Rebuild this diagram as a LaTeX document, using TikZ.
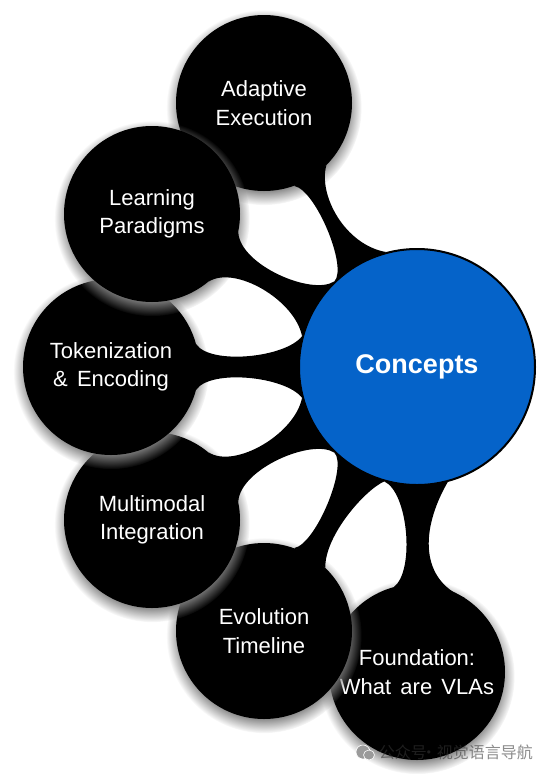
\documentclass[tikz,border=0pt]{standalone}
\usepackage{fontspec}
\setmainfont[WordSpace=1.5]{Liberation Sans}
\newfontfamily\cjk{Noto Sans CJK SC}
\usetikzlibrary{shadows}
\pgfdeclarelayer{top}
\pgfsetlayers{main,top}
\definecolor{conceptblue}{HTML}{0563C9}
\definecolor{markgray}{HTML}{353535}
\definecolor{icongray}{HTML}{9A9A9A}
\tikzset{
  topicnode/.style={circle,fill=black,text=white,minimum size=176pt,inner sep=0pt,align=center,
    font=\fontsize{22}{28.5}\selectfont,
    circular drop shadow={fill=gray,shadow xshift=0pt,shadow yshift=-4pt,shadow scale=1.11,opacity=.9}},
  hubnode/.style={circle,fill=conceptblue,draw=black,line width=2pt,text=white,minimum size=236pt,inner sep=0pt,
    font=\fontsize{27}{32}\selectfont\bfseries},
  branch/.style={fill=black,draw=none},
  markpart/.style={fill=icongray,draw=white,line width=.6pt}
}
\begin{document}
\begin{tikzpicture}[x=1pt,y=-1pt]
\useasboundingbox (0,0) rectangle (551,774);
\node[topicnode] (foundation) at (417,672) {Foundation:\\What are VLAs};
\node[topicnode] (evolution) at (264,631) {Evolution\\Timeline};
\node[topicnode] (multimodal) at (152,520) {Multimodal\\Integration};
\node[topicnode] (tokenization) at (111,367) {Tokenization\\\& Encoding};
\node[topicnode] (adaptive) at (264,103) {Adaptive\\Execution};
\node[topicnode] (learning) at (152,214) {Learning\\Paradigms};
\begin{pgfonlayer}{top}
\node[hubnode] (concepts) at (417,367) {Concepts};
\end{pgfonlayer}
% branches sit over the shadows, under the hub
\fill[branch] (adaptive.-45) .. controls (318,195) and (345,245) .. (concepts.105)
  -- (concepts.134) .. controls (348,268) and (316,190) .. (adaptive.-70) -- cycle;
\fill[branch] (learning.-12) .. controls (240,265) and (312,296) .. (concepts.134)
  -- (concepts.165) .. controls (295,300) and (235,265) .. (learning.-50) -- cycle;
\fill[branch] (tokenization.15) .. controls (210,365) and (285,358) .. (concepts.165)
  -- (concepts.195) .. controls (285,376) and (210,369) .. (tokenization.-15) -- cycle;
\fill[branch] (multimodal.50) .. controls (235,469) and (295,434) .. (concepts.195)
  -- (concepts.226) .. controls (312,438) and (240,469) .. (multimodal.12) -- cycle;
\fill[branch] (evolution.70) .. controls (316,544) and (348,466) .. (concepts.226)
  -- (concepts.254) .. controls (365,490) and (325,535) .. (evolution.46) -- cycle;
\fill[branch] (foundation.105) .. controls (415,570) and (408,492) .. (concepts.254)
  -- (concepts.-75) .. controls (420,530) and (420,580) .. (foundation.57) -- cycle;
% watermark
\begin{pgfonlayer}{top}
\fill[markpart] (363,752) ellipse (7pt and 7pt);
\fill[markpart] (369,755) ellipse (5.5pt and 5pt);
\node[text=markgray,text opacity=.57,font=\cjk\fontsize{16}{16}\selectfont,inner sep=0pt,anchor=east] (mark) at (533,752) {公众号\kern-6pt·\kern0pt 视觉语言导航};
\end{pgfonlayer}
\end{tikzpicture}
\end{document}
